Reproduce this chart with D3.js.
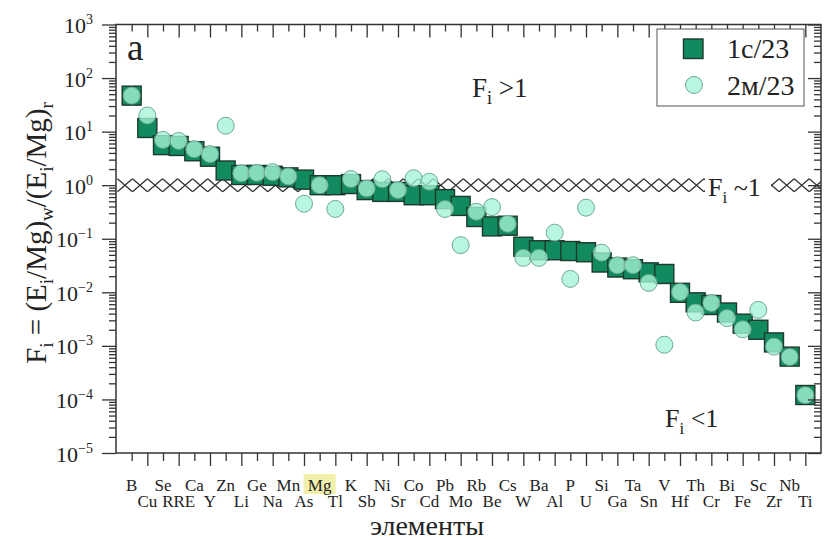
<!DOCTYPE html>
<html>
  <head>
    <title>Fi elements</title>
    <script src="https://d3js.org/d3.v7.min.js"></script>
    <style>
      html, body {
        margin:0;
        padding:0;
        background:#fff;
      }
      svg text {
        font-family:"Liberation Serif", "Times New Roman", serif;
        fill:#222;
      }
    </style>
  </head>
  <body>
    <svg id="chart" width="824" height="540"></svg>
    <script>
      // elements in plot order
      var elements = ["B","Cu","Se","RRE","Ca","Y","Zn","Li","Ge","Na","Mn","As","Mg","Tl","K","Sb","Ni","Sr","Co","Cd",
                      "Pb","Mo","Rb","Be","Cs","W","Ba","Al","P","U","Si","Ga","Ta","Sn","V","Hf","Th","Cr","Bi","Fe",
                      "Sc","Zr","Nb","Ti"];

      // sample 1с/23 (squares)
      var s1c = [47, 11.7, 5.6, 5.4, 4.3, 3.4, 1.88, 1.55, 1.55, 1.5, 1.4, 1.27, 1.0, 1.0, 1.05, 0.81, 0.75, 0.75, 0.65, 0.65,
                 0.55, 0.41, 0.255, 0.17, 0.175, 0.071, 0.061, 0.061, 0.059, 0.056, 0.036, 0.029, 0.027, 0.0236, 0.022, 0.0098, 0.0065, 0.0058, 0.0042, 0.0026,
                 0.0020, 0.00116, 0.00063, 0.000121];

      // sample 2м/23 (circles)
      var s2m = [47, 20, 7.0, 6.7, 4.7, 3.8, 12.9, 1.67, 1.7, 1.75, 1.46, 0.45, 1.0, 0.36, 1.3, 0.87, 1.29, 0.81, 1.35, 1.16,
                 0.36, 0.076, 0.32, 0.39, 0.19, 0.044, 0.044, 0.13, 0.0178, 0.38, 0.055, 0.032, 0.032, 0.015, 0.00105, 0.0101, 0.0042, 0.0063, 0.0033, 0.00204,
                 0.0047, 0.00097, 0.00062, 0.00012];

      // reference line F = 1, drawn as a row of crosses
      var refValue = 1;
      var refX = [0.57, 1.53, 2.49, 3.45, 4.41, 5.37, 6.33, 7.29, 8.25, 9.21, 10.17, 11.13, 12.09, 13.05, 14.01, 14.97,
                  15.93, 16.89, 17.85, 18.81, 19.77, 20.73, 21.69, 22.65, 23.61, 24.57, 25.53, 26.49, 27.45, 28.41, 29.37,
                  30.33, 31.29, 32.25, 33.21, 34.17, 35.13, 36.09, 37.05, 38.01, 38.97, 39.93, 40.89, 41.85, 42.81, 43.77, 44.73];

      var yMajor = [1e-5, 1e-4, 1e-3, 1e-2, 1e-1, 1e0, 1e1, 1e2, 1e3];
      var yExp = ["−5", "−4", "−3", "−2", "−1", "0", "1", "2", "3"];

      var seriesNames = ["1с/23", "2м/23"];

      var pL = 116, pR = 821, pT = 24.5, pB = 453;
      var svg = d3.select("#chart");

      var x = d3.scaleLinear().domain([0, elements.length + 1]).range([pL, pR]);
      var y = d3.scaleLog().domain([1e-5, 1e3]).range([pB, pT]);

      var yMinor = [];
      yMajor.slice(0, -1).forEach(function(m) {
        for (var k = 2; k <= 9; k++) yMinor.push(m * k);
      });

      var idx = elements.map(function(d, i) { return i + 1; });
      var odd = idx.filter(function(d) { return d % 2 === 1; });
      var even = idx.filter(function(d) { return d % 2 === 0; });

      svg.append("defs").append("clipPath").attr("id", "clip")
        .append("rect").attr("x", pL).attr("y", pT).attr("width", pR - pL).attr("height", pB - pT);

      var plot = svg.append("g").attr("clip-path", "url(#clip)");

      // crosses at F = 1
      plot.append("g").selectAll("path").data(refX).join("path")
        .attr("d", function(d) {
          var cx = x(d), cy = y(refValue);
          return "M" + (cx - 7.5) + "," + (cy - 6.5) + "L" + (cx + 7.5) + "," + (cy + 6.5) +
                 "M" + (cx - 7.5) + "," + (cy + 6.5) + "L" + (cx + 7.5) + "," + (cy - 6.5);
        })
        .attr("stroke", "#333").attr("stroke-width", 1.3).attr("fill", "none");

      // squares
      plot.append("g").selectAll("rect").data(s1c).join("rect")
        .attr("x", function(d, i) { return x(i + 1) - 9.5; })
        .attr("y", function(d) { return y(d) - 9.5; })
        .attr("width", 19).attr("height", 19)
        .attr("fill", "#108a5e").attr("stroke", "#1c3a2c").attr("stroke-width", 1.4);

      // circles
      plot.append("g").selectAll("circle").data(s2m).join("circle")
        .attr("cx", function(d, i) { return x(i + 1); })
        .attr("cy", function(d) { return y(d); })
        .attr("r", 8.5)
        .attr("fill", "rgba(165,243,214,0.78)").attr("stroke", "rgba(100,160,140,0.9)").attr("stroke-width", 1);

      // axes
      function styleAxis(g) {
        g.select(".domain").remove();
        g.selectAll("line").attr("stroke", "#333").attr("stroke-width", 1.3);
      }
      svg.append("g").attr("transform", "translate(" + pL + ",0)")
        .call(d3.axisLeft(y).tickValues(yMajor).tickSize(14).tickFormat("")).call(styleAxis);
      svg.append("g").attr("transform", "translate(" + pL + ",0)")
        .call(d3.axisLeft(y).tickValues(yMinor).tickSize(7).tickFormat("")).call(styleAxis);
      svg.append("g").attr("transform", "translate(" + pR + ",0)")
        .call(d3.axisRight(y).tickValues(yMajor).tickSize(-13).tickFormat("")).call(styleAxis);
      svg.append("g").attr("transform", "translate(" + pR + ",0)")
        .call(d3.axisRight(y).tickValues(yMinor).tickSize(-7).tickFormat("")).call(styleAxis);
      svg.append("g").attr("transform", "translate(0," + pB + ")")
        .call(d3.axisBottom(x).tickValues(odd).tickSize(8).tickFormat("")).call(styleAxis);
      svg.append("g").attr("transform", "translate(0," + pB + ")")
        .call(d3.axisBottom(x).tickValues(even).tickSize(13).tickFormat("")).call(styleAxis);
      svg.append("g").attr("transform", "translate(0," + pT + ")")
        .call(d3.axisTop(x).tickValues(odd).tickSize(-7).tickFormat("")).call(styleAxis);
      svg.append("g").attr("transform", "translate(0," + pT + ")")
        .call(d3.axisTop(x).tickValues(even).tickSize(-13).tickFormat("")).call(styleAxis);

      svg.append("rect").attr("x", pL).attr("y", pT).attr("width", pR - pL).attr("height", pB - pT)
        .attr("fill", "none").attr("stroke", "#333").attr("stroke-width", 1.5);

      // y tick labels 10^n
      yMajor.forEach(function(v, i) {
        var t = svg.append("text").attr("x", 93).attr("y", y(v) + 8.5)
          .attr("text-anchor", "end").style("font-size", "22px");
        t.append("tspan").text("10");
        t.append("tspan").attr("dy", -9).style("font-size", "14px").text(yExp[i]);
      });

      // Mg highlight
      var mgI = elements.indexOf("Mg") + 1;
      svg.append("rect").attr("x", x(mgI) - 16).attr("y", 474).attr("width", 32).attr("height", 20)
        .attr("fill", "#f3f0ad");

      // element labels, two rows
      svg.append("g").selectAll("text").data(elements).join("text")
        .attr("x", function(d, i) { return x(i + 1); })
        .attr("y", function(d, i) { return i % 2 === 0 ? 491 : 507; })
        .attr("text-anchor", "middle").style("font-size", "17px")
        .text(function(d) { return d; });

      svg.append("text").attr("x", 427).attr("y", 535).attr("text-anchor", "middle")
        .style("font-size", "28px").text("элементы");

      // rich text helper: parts of [text, "n"|"sub"]
      function rich(sel, parts, size, subSize, shift) {
        var prev = "n";
        parts.forEach(function(p) {
          var ts = sel.append("tspan").text(p[0]);
          if (p[1] === "sub" && prev !== "sub") ts.attr("dy", shift).style("font-size", subSize + "px");
          else if (p[1] === "sub") ts.style("font-size", subSize + "px");
          else if (prev === "sub") ts.attr("dy", -shift).style("font-size", size + "px");
          prev = p[1];
        });
      }

      var yt = svg.append("text").attr("transform", "translate(46,233) rotate(-90)")
        .attr("text-anchor", "middle").style("font-size", "29px");
      rich(yt, [["F", "n"], ["i", "sub"], [" = (E", "n"], ["i", "sub"], ["/Mg)", "n"], ["w", "sub"],
                ["/(E", "n"], ["i", "sub"], ["/Mg)", "n"], ["r", "sub"]], 29, 19, 7);

      svg.append("text").attr("x", 127).attr("y", 60).style("font-size", "37px").text("a");

      var t1 = svg.append("text").attr("x", 472).attr("y", 97).style("font-size", "27px");
      rich(t1, [["F", "n"], ["i", "sub"], [" >1", "n"]], 27, 18, 7);

      svg.append("rect").attr("x", 705).attr("y", 171).attr("width", 66).attr("height", 36).attr("fill", "#fff");
      var t2 = svg.append("text").attr("x", 708).attr("y", 196).style("font-size", "26px");
      rich(t2, [["F", "n"], ["i", "sub"], [" ~1", "n"]], 26, 17, 7);

      var t3 = svg.append("text").attr("x", 665).attr("y", 427).style("font-size", "26px");
      rich(t3, [["F", "n"], ["i", "sub"], [" <1", "n"]], 26, 17, 7);

      // legend
      var lg = svg.append("g");
      lg.append("rect").attr("x", 657).attr("y", 29).attr("width", 147).attr("height", 77)
        .attr("fill", "#fff").attr("stroke", "#555").attr("stroke-width", 1);
      lg.append("rect").attr("x", 683.5).attr("y", 39).attr("width", 19.5).attr("height", 19.5)
        .attr("fill", "#108a5e").attr("stroke", "#1c3a2c").attr("stroke-width", 1.4);
      lg.append("circle").attr("cx", 694).attr("cy", 85).attr("r", 8.5)
        .attr("fill", "rgba(165,243,214,0.78)").attr("stroke", "rgba(100,160,140,0.9)");
      lg.selectAll("text").data(seriesNames).join("text")
        .attr("x", 727).attr("y", function(d, i) { return 58 + i * 37; })
        .style("font-size", "28px").text(function(d) { return d; });
    </script>
  </body>
</html>
